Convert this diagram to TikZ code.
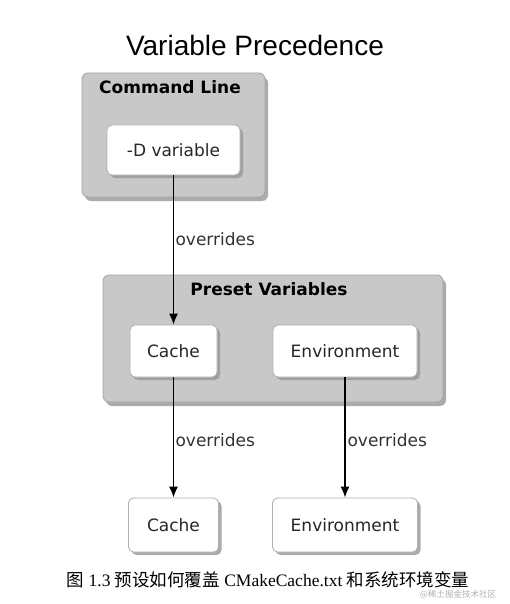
\documentclass[tikz,border=0pt]{standalone}
\usepackage{fontspec}
\setmainfont{DejaVu Sans}
\newfontfamily\titlefont{Liberation Sans}
\newfontfamily\capserif{Liberation Serif}
\newfontfamily\cjk{Noto Sans CJK SC}
\usetikzlibrary{shadows,arrows.meta}
\definecolor{grpfill}{RGB}{200,200,200}
\definecolor{grpdraw}{RGB}{165,165,165}
\definecolor{boxdraw}{RGB}{175,175,175}
\definecolor{shadowc}{RGB}{150,150,150}
\tikzset{
  group/.style={draw=grpdraw, line width=0.8pt, fill=grpfill, rounded corners=6pt,
    drop shadow={shadow xshift=3pt, shadow yshift=-4pt, fill=shadowc, opacity=0.8}},
  item/.style={draw=boxdraw, line width=0.8pt, fill=white, rounded corners=5pt,
    font=\fontsize{17}{19}\selectfont, text=black!85,
    drop shadow={shadow xshift=3pt, shadow yshift=-3pt, fill=shadowc, opacity=0.8}},
  glabel/.style={font=\fontsize{17}{19}\selectfont\bfseries, text=black},
  elabel/.style={font=\fontsize{17}{19}\selectfont, text=black!80, anchor=west},
  over/.style={-{Latex[length=11pt,width=9pt]}, line width=1.4pt, black}
}
\begin{document}
\begin{tikzpicture}[x=1pt,y=-1pt]
\useasboundingbox[fill=white] (0,0) rectangle (509,604);
% title
\node[font=\titlefont\fontsize{28}{32}\selectfont] (title) at (255,45) {Variable Precedence};
% groups
\node[group, minimum width=183pt, minimum height=124pt] (cmdgrp) at (173.5,135) {};
\node[glabel] (cmdlbl) at (170,87) {Command Line};
\node[group, minimum width=340pt, minimum height=127pt] (pregrp) at (273,338.5) {};
\node[glabel] (prelbl) at (269,289) {Preset Variables};
% boxes
\node[item, minimum width=133pt, minimum height=50pt] (dvar) at (173.5,150) {-D variable};
\node[item, minimum width=87pt, minimum height=52pt] (cache1) at (173.5,351) {Cache};
\node[item, minimum width=144pt, minimum height=52pt] (env1) at (345,351) {Environment};
\node[item, minimum width=90pt, minimum height=54pt] (cache2) at (173.5,525) {Cache};
\node[item, minimum width=145pt, minimum height=54pt] (env2) at (345,525) {Environment};
% arrows
\draw[over] (dvar.south) -- (cache1.north);
\draw[over] (cache1.south) -- (cache2.north);
\draw[over] (env1.south) -- (env2.north);
\node[elabel] (o1) at (172,239) {overrides};
\node[elabel] (o2) at (172,440) {overrides};
\node[elabel] (o3) at (344,440) {overrides};
% caption
\node[font=\fontsize{17.5}{20}\selectfont] (cap) at (268,580)
  {\cjk 图\capserif{} 1.3 \cjk 预设如何覆盖\capserif{} CMakeCache.txt \cjk 和系统环境变量};
\node[font=\cjk\fontsize{8.5}{10}\selectfont, text=black!30] (wm) at (458,595) {@稀土掘金技术社区};
\end{tikzpicture}
\end{document}
